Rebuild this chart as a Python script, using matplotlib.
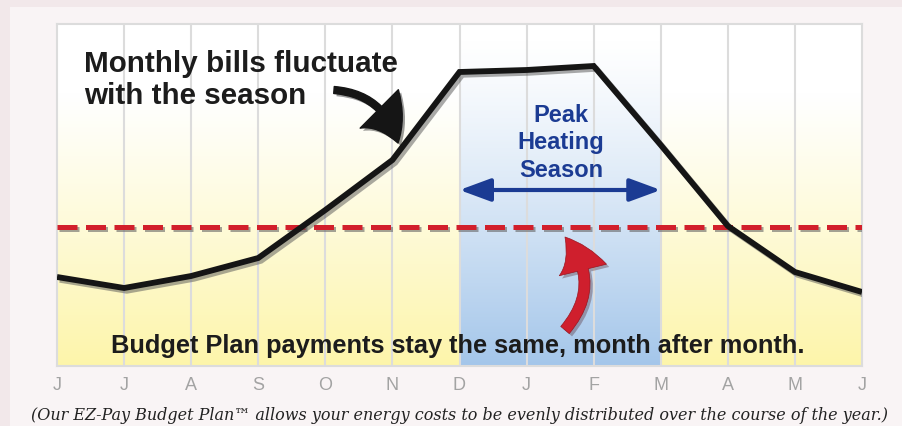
import numpy as np
import matplotlib.pyplot as plt
import matplotlib.patheffects as pe
from matplotlib.patches import FancyArrowPatch, Rectangle

# month labels along the bottom (June through June)
months = ["J", "J", "A", "S", "O", "N", "D", "J", "F", "M", "A", "M", "J"]
# estimated monthly bill level (arbitrary units)
monthly_bill = [89, 78, 90, 108, 156, 206, 294, 296, 300, 221, 140, 94, 74]
# flat budget plan payment
budget_payment = 139
# peak heating season runs from December to March (month index)
peak_start = 6
peak_end = 9

W, H = 902, 426


def fx(x):
    return x / W


def fy(y):
    return 1 - y / H


fig = plt.figure(figsize=(W / 100, H / 100), dpi=100)
fig.patch.set_facecolor("#f2e8ea")
fig.add_artist(Rectangle((fx(10), 0), 1, fy(7), transform=fig.transFigure,
                         facecolor="#f9f4f5", edgecolor="none", zorder=0))

ax = fig.add_axes([fx(57), 1 - 366 / H, 805 / W, 342 / H])
ax.set_facecolor("white")

# background gradients: white -> yellow, and the blue peak band
t = np.linspace(0, 1, 256)
w_y = np.clip((t - 0.2) / 0.8, 0, 1) ** 1.1
top = np.array([1.0, 1.0, 1.0])
yellow = np.array([253, 245, 170]) / 255
grad_y = top + (yellow - top) * w_y[:, None]
ax.imshow(grad_y[:, None, :], extent=[0, 12, 0, 342], aspect="auto", zorder=0)

w_b = np.clip((t - 0.05) / 0.95, 0, 1) ** 1.2
blue = np.array([164, 198, 234]) / 255
grad_b = top + (blue - top) * w_b[:, None]
ax.imshow(grad_b[:, None, :], extent=[peak_start, peak_end, 0, 342], aspect="auto", zorder=0)

ax.set_xlim(0, 12)
ax.set_ylim(0, 342)

for i in range(1, 12):
    ax.axvline(i, color="#dcdcdc", lw=1.5, zorder=1)
for s in ax.spines.values():
    s.set_color("#dcdcdc")
    s.set_linewidth(1.5)

ax.set_xticks(range(len(months)))
ax.set_xticklabels(months, color="#a3a3a3", fontsize=13, family="Liberation Sans")
ax.tick_params(axis="x", length=0, pad=8)
ax.set_yticks([])

# budget line (red dashed) and bills line (black)
ax.axhline(budget_payment, color="#d21f2b", lw=3.6, ls=(0, (4, 1.7)), zorder=3,
           path_effects=[pe.SimpleLineShadow(offset=(1.5, -1.5), shadow_color="#666", alpha=0.6),
                         pe.Normal()])
ax.plot(range(len(monthly_bill)), monthly_bill, color="#151515", lw=4.2,
        solid_joinstyle="miter", solid_capstyle="butt", zorder=4,
        path_effects=[pe.SimpleLineShadow(offset=(2, -2), shadow_color="#555", alpha=0.5),
                      pe.Normal()])

# peak season double arrow
ax.add_patch(FancyArrowPatch((peak_start, 176), (peak_end, 176),
                             arrowstyle="<|-|>,head_length=19,head_width=7",
                             mutation_scale=1, lw=3, color="#1b3b93",
                             shrinkA=0, shrinkB=0, zorder=5))

# texts (va="baseline" pins the last line's baseline)
fig.text(fx(84), fy(104), "Monthly bills fluctuate\nwith the season", ha="left", va="baseline",
         fontsize=21.3, weight="bold", color="#1c1c1c", family="Liberation Sans", linespacing=1.18)
fig.text(fx(561), fy(177), "Peak\nHeating\nSeason", ha="center", va="baseline",
         fontsize=17, weight="bold", color="#1b3b93", family="Liberation Sans", linespacing=1.25)
fig.text(fx(458), fy(353), "Budget Plan payments stay the same, month after month.",
         ha="center", va="baseline", fontsize=18.3, weight="bold", color="#1c1c1c",
         family="Liberation Sans", zorder=6)
fig.text(fx(459), fy(420),
         "(Our EZ-Pay Budget Plan\u2122 allows your energy costs to be evenly distributed over the course of the year.)",
         ha="center", va="baseline", fontsize=11.5, style="italic", color="#222222",
         family="DejaVu Serif")

# curved arrows
black_arrow = FancyArrowPatch((fx(334), fy(90)), (fx(398), fy(143)), transform=fig.transFigure,
                              connectionstyle="arc3,rad=-0.35",
                              arrowstyle="simple,head_width=39,head_length=28,tail_width=5",
                              mutation_scale=1, color="#151515", shrinkA=0, shrinkB=0, zorder=6,
                              path_effects=[pe.withSimplePatchShadow(offset=(2, -2), alpha=0.4)])
fig.add_artist(black_arrow)
red_arrow = FancyArrowPatch((fx(565), fy(330)), (fx(565), fy(237)), transform=fig.transFigure,
                            connectionstyle="arc3,rad=0.42",
                            arrowstyle="simple,head_width=35,head_length=27,tail_width=8",
                            mutation_scale=1, facecolor="#cf1f2d", edgecolor="#9a1520", lw=0.5,
                            shrinkA=0, shrinkB=0, zorder=6,
                            path_effects=[pe.withSimplePatchShadow(offset=(2, -2), alpha=0.3)])
fig.add_artist(red_arrow)

fig.savefig("out.png", dpi=100)
